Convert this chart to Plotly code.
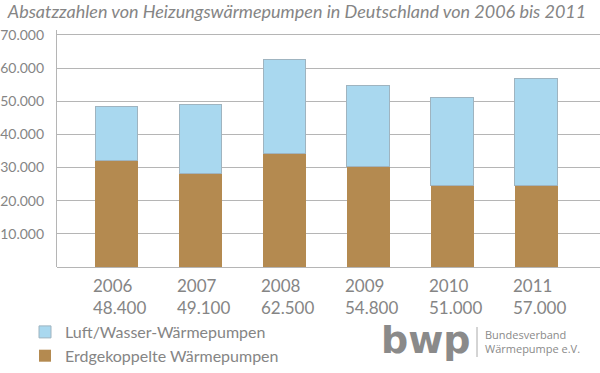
import plotly.graph_objects as go

years = ["2006", "2007", "2008", "2009", "2010", "2011"]
totals = [48400, 49100, 62500, 54800, 51000, 57000]
erd = [32000, 28200, 34300, 30300, 24500, 24500]
luft = [t - e for t, e in zip(totals, erd)]
total_labels = ["48.400", "49.100", "62.500", "54.800", "51.000", "57.000"]
ytick_vals = [10000, 20000, 30000, 40000, 50000, 60000, 70000]
ytick_text = ["10.000", "20.000", "30.000", "40.000", "50.000", "60.000", "70.000"]

BROWN = "#b48a50"
BLUE = "#a9d8ef"
GRAY = "#858585"
FONT = "Lato"

xs = list(range(len(years)))

fig = go.Figure()
fig.add_trace(go.Bar(x=xs, y=erd, name="Erdgekoppelte Wärmepumpen",
                     marker=dict(color=BROWN, line=dict(width=0)), width=0.51))
fig.add_trace(go.Bar(x=xs, y=luft, name="Luft/Wasser-Wärmepumpen",
                     marker=dict(color=BLUE, line=dict(color="#9fb4c0", width=1)), width=0.51))

for i, (yr, tl) in enumerate(zip(years, total_labels)):
    fig.add_annotation(x=i, y=0, xref="x", yref="y", text=f"{yr}<br>{tl}",
                       showarrow=False, align="left", xanchor="center", yanchor="top",
                       xshift=3, yshift=-6,
                       font=dict(family=FONT, size=17, color=GRAY))

PL, PT, PW, PH = 57, 30, 543, 237


def px(x):
    return (x - PL) / PW


def py(y):
    return (PT + PH - y) / PH


fig.update_layout(
    width=600, height=373,
    margin=dict(l=PL, r=0, t=PT, b=373 - PT - PH, autoexpand=False),
    paper_bgcolor="white", plot_bgcolor="white",
    barmode="stack",
    title=dict(text="<i>Absatzzahlen von Heizungswärmepumpen in Deutschland von 2006 bis 2011</i>",
               x=0.013, xanchor="left", y=0.968, yanchor="middle",
               font=dict(family=FONT, size=18, color=GRAY)),
    xaxis=dict(range=[-0.71, 5.76], showticklabels=False, showgrid=False,
               zeroline=False, showline=False, fixedrange=True),
    yaxis=dict(range=[0, 71500], tickvals=ytick_vals, ticktext=ytick_text,
               showgrid=True, gridcolor="#b5b5b5", gridwidth=1.3,
               zeroline=True, zerolinecolor="#b5b5b5", zerolinewidth=1.3,
               showline=True, linecolor="#b5b5b5", linewidth=1.3,
               ticks="outside", ticklen=9, tickcolor="rgba(0,0,0,0)",
               tickfont=dict(family=FONT, size=14, color=GRAY)),
    legend=dict(x=px(25), y=py(315), xanchor="left", yanchor="top",
                traceorder="reversed", font=dict(family=FONT, size=16, color=GRAY),
                itemwidth=30, tracegroupgap=0, bgcolor="rgba(0,0,0,0)"),
    showlegend=True,
)

# bwp logo as text
fig.add_annotation(x=px(379), y=py(340), xref="paper", yref="paper",
                   text="<b>bwp</b>", showarrow=False, xanchor="left", yanchor="middle",
                   font=dict(family="DejaVu Sans", size=38, color="#8a8a8a"))
fig.add_shape(type="line", xref="paper", yref="paper",
              x0=px(477), x1=px(477), y0=py(357), y1=py(327),
              line=dict(color="#aaaaaa", width=1))
fig.add_annotation(x=px(483), y=py(341), xref="paper", yref="paper",
                   text="Bundesverband<br>Wärmepumpe e.V.", showarrow=False, align="left",
                   xanchor="left", yanchor="middle",
                   font=dict(family="Open Sans", size=11, color="#8a8a8a"))

fig.write_html("out.html", config={"displayModeBar": False},
               post_script="document.body.style.margin='0';")
